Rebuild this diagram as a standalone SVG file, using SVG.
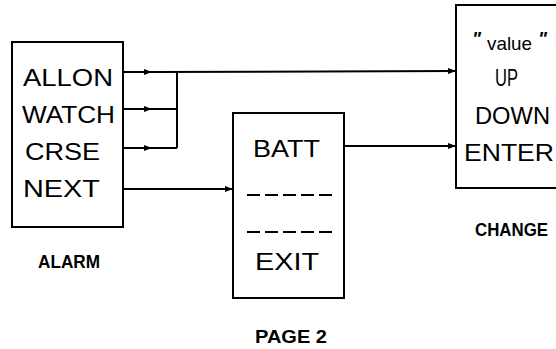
<svg xmlns="http://www.w3.org/2000/svg" width="556" height="349" viewBox="0 0 556 349">
<style>
  .box { fill: #fff; stroke: #000; stroke-width: 2; }
  .t { font-family: "Liberation Sans", Arial, sans-serif; font-size: 24px; fill: #000; }
  .lbl { font-family: "Liberation Sans", Arial, sans-serif; font-size: 18.5px; font-weight: bold; fill: #000; }
  .c { fill: none; stroke: #000; stroke-width: 2; }
  .dash { stroke: #000; stroke-width: 2; stroke-dasharray: 13 5; }
</style>
<defs>
  <marker id="ah" viewBox="0 0 8 6" refX="8" refY="3" markerWidth="8" markerHeight="6" markerUnits="userSpaceOnUse" orient="auto">
    <path d="M0,0 L8,3 L0,6 z" fill="#000"/>
  </marker>
</defs>
<rect width="556" height="349" fill="#fff"/>
<g id="alarm">
  <rect class="box" x="12" y="42" width="111" height="185"/>
  <text class="t" x="23" y="86" textLength="90" lengthAdjust="spacingAndGlyphs">ALLON</text>
  <text class="t" x="22" y="123" textLength="93" lengthAdjust="spacingAndGlyphs">WATCH</text>
  <text class="t" x="25" y="160" textLength="75" lengthAdjust="spacingAndGlyphs">CRSE</text>
  <text class="t" x="23" y="197" textLength="77" lengthAdjust="spacingAndGlyphs">NEXT</text>
  <text class="lbl" x="38" y="268" textLength="62" lengthAdjust="spacingAndGlyphs">ALARM</text>
</g>
<g id="page2">
  <rect class="box" x="233" y="113" width="111" height="185"/>
  <text class="t" x="253" y="157" textLength="67" lengthAdjust="spacingAndGlyphs">BATT</text>
  <line class="dash" x1="247" y1="195" x2="333" y2="195"/>
  <line class="dash" x1="247" y1="232" x2="333" y2="232"/>
  <text class="t" x="255" y="270" textLength="64" lengthAdjust="spacingAndGlyphs">EXIT</text>
  <text class="lbl" x="255" y="343" textLength="72" lengthAdjust="spacingAndGlyphs">PAGE 2</text>
</g>
<g id="change">
  <rect class="box" x="456" y="5" width="110" height="183"/>
  <text class="t" style="font-size:19px"><tspan x="472" y="45" style="font-weight:bold;font-style:italic">"</tspan><tspan x="487" y="50" textLength="45" lengthAdjust="spacingAndGlyphs">value</tspan><tspan x="538" y="45" style="font-weight:bold;font-style:italic">"</tspan></text>
  <text class="t" x="495" y="86" textLength="23" lengthAdjust="spacingAndGlyphs">UP</text>
  <text class="t" x="475" y="124" textLength="75" lengthAdjust="spacingAndGlyphs">DOWN</text>
  <text class="t" x="464" y="161" textLength="90" lengthAdjust="spacingAndGlyphs">ENTER</text>
  <text class="lbl" x="475" y="236" textLength="73" lengthAdjust="spacingAndGlyphs">CHANGE</text>
</g>
<g id="connectors">
  <path class="c" d="M123,72 L152,72 L456,71" marker-mid="url(#ah)" marker-end="url(#ah)"/>
  <path class="c" d="M123,109 L152,109 L177,109" marker-mid="url(#ah)"/>
  <path class="c" d="M123,148 L152,148 L177,148" marker-mid="url(#ah)"/>
  <line class="c" x1="177" y1="72" x2="177" y2="148"/>
  <path class="c" d="M123,189 L233,189" marker-end="url(#ah)"/>
  <path class="c" d="M344,146 L456,146" marker-end="url(#ah)"/>
</g>
</svg>
